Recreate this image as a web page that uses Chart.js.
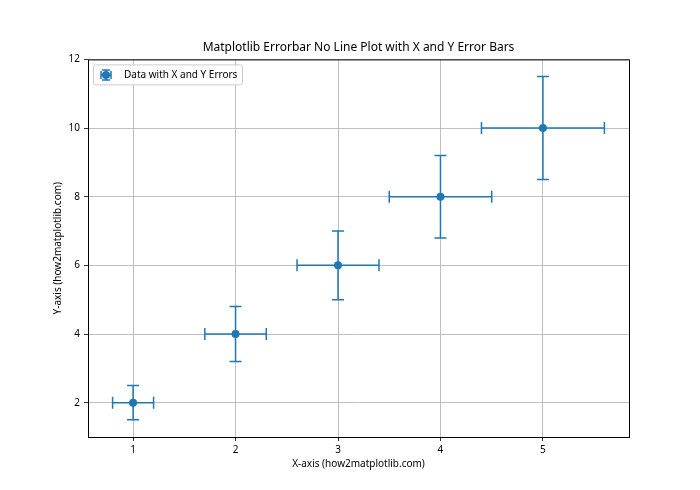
<!DOCTYPE html>
<html>
<head>
<meta charset="utf-8">
<script src="https://cdn.jsdelivr.net/npm/chart.js@4.4.0/dist/chart.umd.min.js"></script>
<style>
  html, body { margin: 0; padding: 0; background: #fff; }
  #wrap { width: 700px; height: 490px; }
</style>
</head>
<body>
<div id="wrap"><canvas id="errorbarChart" width="700" height="490"></canvas></div>
<script>
// data
const xValues = [1, 2, 3, 4, 5];
const yValues = [2, 4, 6, 8, 10];
const xErrors = [0.2, 0.3, 0.4, 0.5, 0.6];
const yErrors = [0.5, 0.8, 1.0, 1.2, 1.5];
const xTicks = [1, 2, 3, 4, 5];
const yTicks = [2, 4, 6, 8, 10, 12];

const blue = '#1f77b4';
const fontFamily = "'Noto Sans', 'DejaVu Sans', sans-serif";

// error bars drawn through the chart scales, under the markers
const errorBars = {
  id: 'errorBars',
  beforeDatasetsDraw(chart) {
    const { ctx, scales: { x, y } } = chart;
    const cap = 6;
    ctx.save();
    ctx.strokeStyle = blue;
    ctx.lineWidth = 1.5;
    xValues.forEach((xv, i) => {
      const px = x.getPixelForValue(xv);
      const py = y.getPixelForValue(yValues[i]);
      const x0 = x.getPixelForValue(xv - xErrors[i]);
      const x1 = x.getPixelForValue(xv + xErrors[i]);
      const y0 = y.getPixelForValue(yValues[i] - yErrors[i]);
      const y1 = y.getPixelForValue(yValues[i] + yErrors[i]);
      ctx.beginPath();
      ctx.moveTo(x0, py); ctx.lineTo(x1, py);
      ctx.moveTo(x0, py - cap); ctx.lineTo(x0, py + cap);
      ctx.moveTo(x1, py - cap); ctx.lineTo(x1, py + cap);
      ctx.moveTo(px, y0); ctx.lineTo(px, y1);
      ctx.moveTo(px - cap, y0); ctx.lineTo(px + cap, y0);
      ctx.moveTo(px - cap, y1); ctx.lineTo(px + cap, y1);
      ctx.stroke();
    });
    ctx.restore();
  }
};

// full box around the plot + legend in upper left
const frameAndLegend = {
  id: 'frameAndLegend',
  afterDraw(chart) {
    const { ctx, chartArea: a } = chart;
    ctx.save();
    ctx.strokeStyle = '#000';
    ctx.lineWidth = 1;
    ctx.strokeRect(a.left + 0.5, a.top + 0.5, a.right - a.left, a.bottom - a.top);

    // legend
    const lx = a.left + 5, ly = a.top + 5, lw = 149, lh = 20;
    ctx.fillStyle = 'rgba(255,255,255,0.8)';
    ctx.strokeStyle = '#cccccc';
    ctx.beginPath();
    ctx.roundRect(lx + 0.5, ly + 0.5, lw, lh, 2);
    ctx.fill();
    ctx.stroke();

    const mx = lx + 13, my = ly + 10.5;
    ctx.strokeStyle = blue;
    ctx.lineWidth = 1.5;
    ctx.beginPath();
    ctx.moveTo(mx - 5, my); ctx.lineTo(mx + 5, my);
    ctx.moveTo(mx - 5, my - 4); ctx.lineTo(mx - 5, my + 4);
    ctx.moveTo(mx + 5, my - 4); ctx.lineTo(mx + 5, my + 4);
    ctx.moveTo(mx, my - 5); ctx.lineTo(mx, my + 5);
    ctx.moveTo(mx - 4, my - 5); ctx.lineTo(mx + 4, my - 5);
    ctx.moveTo(mx - 4, my + 5); ctx.lineTo(mx + 4, my + 5);
    ctx.stroke();
    ctx.fillStyle = blue;
    ctx.beginPath();
    ctx.arc(mx, my, 4, 0, Math.PI * 2);
    ctx.fill();

    ctx.fillStyle = '#000';
    ctx.font = '10px ' + fontFamily;
    ctx.textBaseline = 'middle';
    ctx.fillText(chart.data.datasets[0].label, lx + 31, my);
    ctx.restore();
  }
};

const points = xValues.map((xv, i) => ({ x: xv, y: yValues[i] }));

new Chart(document.getElementById('errorbarChart').getContext('2d'), {
  type: 'scatter',
  data: {
    datasets: [{
      label: 'Data with X and Y Errors',
      data: points,
      backgroundColor: blue,
      borderColor: blue,
      pointRadius: 4,
      pointHoverRadius: 4,
      borderWidth: 0
    }]
  },
  options: {
    responsive: false,
    animation: false,
    events: [],
    layout: { padding: { left: 48, right: 71, top: 0, bottom: 20 } },
    plugins: {
      legend: { display: false },
      tooltip: { enabled: false },
      title: {
        display: true,
        fullSize: false,
        text: 'Matplotlib Errorbar No Line Plot with X and Y Error Bars',
        color: '#000',
        font: { family: fontFamily, size: 12, weight: 'normal' },
        padding: { top: 40, bottom: 5 }
      }
    },
    scales: {
      x: {
        type: 'linear',
        min: 0.56,
        max: 5.84,
        afterBuildTicks: s => { s.ticks = xTicks.map(v => ({ value: v })); },
        afterFit: s => { s.height = 33; },
        grid: { color: '#b0b0b0', lineWidth: 0.8, tickColor: '#000', tickLength: 4 },
        border: { display: false },
        ticks: { color: '#000', font: { family: fontFamily, size: 10 }, padding: 3 },
        title: {
          display: true,
          text: 'X-axis (how2matplotlib.com)',
          color: '#000',
          font: { family: fontFamily, size: 10 },
          padding: { top: 0, bottom: 0 }
        }
      },
      y: {
        type: 'linear',
        min: 1.0,
        max: 12.0,
        afterBuildTicks: s => { s.ticks = yTicks.map(v => ({ value: v })); },
        afterFit: s => { s.width = 40; },
        grid: { color: '#b0b0b0', lineWidth: 0.8, tickColor: '#000', tickLength: 4 },
        border: { display: false },
        ticks: { color: '#000', font: { family: fontFamily, size: 10 }, padding: 4 },
        title: {
          display: true,
          text: 'Y-axis (how2matplotlib.com)',
          color: '#000',
          font: { family: fontFamily, size: 10 },
          padding: { top: 4, bottom: 0 }
        }
      }
    }
  },
  plugins: [errorBars, frameAndLegend]
});
</script>
</body>
</html>
